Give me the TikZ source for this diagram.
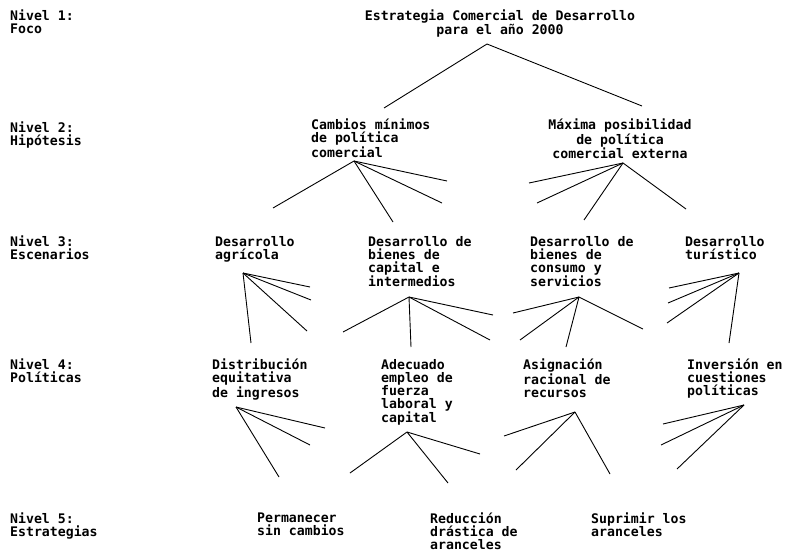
\documentclass[tikz,border=0pt]{standalone}
\usepackage{fontspec}
\newfontfamily\plotter{DejaVu Sans Mono}
\newcommand\fanlines[2]{\foreach \k in {1,...,#2} \draw[fan] (#1) -- (#1-\k);}
\tikzset{
  lbl/.style={inner sep=0pt, font=\plotter\bfseries\fontsize{13.2}{13}\selectfont,
    execute at begin node={\rule{0pt}{11pt}}},
  txt/.style={lbl, anchor=north west, align=left},
  ctxt/.style={lbl, anchor=north, align=center},
  fan/.style={line width=0.9pt, black},
}
\begin{document}
\begin{tikzpicture}[x=1pt,y=-1pt]
\useasboundingbox (0,0) rectangle (786,555);

% level captions
\node[txt] (l1) at (10,10)  {Nivel 1:\\Foco};
\node[txt] (l2) at (10,122) {Nivel 2:\\Hipótesis};
\node[txt] (l3) at (10,236) {Nivel 3:\\Escenarios};
\node[txt] (l4) at (10,359) {Nivel 4:\\Políticas};
\node[txt] (l5) at (10,513) {Nivel 5:\\Estrategias};

% focus
\node[ctxt] (foco) at (500,10) {Estrategia Comercial de Desarrollo\\para el año 2000};

% hypotheses
\node[txt]  (h1) at (311,119) {Cambios mínimos\\de política\\comercial};
\node[ctxt] (h2) at (620,119) {Máxima posibilidad\\de política\\comercial externa};

% scenarios
\node[txt] (e1) at (215,236) {Desarrollo\\agrícola};
\node[txt] (e2) at (368,236) {Desarrollo de\\bienes de\\capital e\\intermedios};
\node[txt] (e3) at (530,236) {Desarrollo de\\bienes de\\consumo y\\servicios};
\node[txt] (e4) at (685,236) {Desarrollo\\turístico};

% policies
\node[txt] (p1) at (212,359) {Distribución\\equitativa\\de ingresos};
\node[txt] (p2) at (381,359) {Adecuado\\empleo de\\fuerza\\laboral y\\capital};
\node[txt] (p3) at (523,359) {Asignación\\racional de\\recursos};
\node[txt] (p4) at (687,359) {Inversión en\\cuestiones\\políticas};

% strategies
\node[txt] (s1) at (257,513) {Permanecer\\sin cambios};
\node[txt] (s2) at (430,513) {Reducción\\drástica de\\aranceles};
\node[txt] (s3) at (591,513) {Suprimir los\\aranceles};

% fan points under each node
\coordinate (foco-a) at (487,44);
\coordinate (foco-a-1) at (384,108);
\coordinate (foco-a-2) at (642,106);

\coordinate (h1-a) at (354,161);
\coordinate (h1-a-1) at (273,208);
\coordinate (h1-a-2) at (393,222);
\coordinate (h1-a-3) at (442,203);
\coordinate (h1-a-4) at (447,181);

\coordinate (h2-a) at (623,163);
\coordinate (h2-a-1) at (529,183);
\coordinate (h2-a-2) at (537,203);
\coordinate (h2-a-3) at (584,220);
\coordinate (h2-a-4) at (686,209);

\coordinate (e1-a) at (243,273);
\coordinate (e1-a-1) at (310,287);
\coordinate (e1-a-2) at (311,300);
\coordinate (e1-a-3) at (307,331);
\coordinate (e1-a-4) at (251,343);

\coordinate (e2-a) at (409,297);
\coordinate (e2-a-1) at (343,332);
\coordinate (e2-a-2) at (493,315);
\coordinate (e2-a-3) at (490,340);
\coordinate (e2-a-4) at (411,347);

\coordinate (e3-a) at (579,297);
\coordinate (e3-a-1) at (513,313);
\coordinate (e3-a-2) at (520,340);
\coordinate (e3-a-3) at (566,347);
\coordinate (e3-a-4) at (643,329);

\coordinate (e4-a) at (739,273);
\coordinate (e4-a-1) at (669,288);
\coordinate (e4-a-2) at (668,303);
\coordinate (e4-a-3) at (667,323);
\coordinate (e4-a-4) at (729,343);

\coordinate (p1-a) at (236,407);
\coordinate (p1-a-1) at (325,428);
\coordinate (p1-a-2) at (310,445);
\coordinate (p1-a-3) at (279,477);

\coordinate (p2-a) at (407,432);
\coordinate (p2-a-1) at (350,473);
\coordinate (p2-a-2) at (448,483);
\coordinate (p2-a-3) at (480,454);

\coordinate (p3-a) at (575,412);
\coordinate (p3-a-1) at (504,436);
\coordinate (p3-a-2) at (516,470);
\coordinate (p3-a-3) at (610,474);

\coordinate (p4-a) at (744,405);
\coordinate (p4-a-1) at (663,424);
\coordinate (p4-a-2) at (661,445);
\coordinate (p4-a-3) at (677,469);

% fans
\fanlines{foco-a}{2}
\fanlines{h1-a}{4}
\fanlines{h2-a}{4}
\fanlines{e1-a}{4}
\fanlines{e2-a}{4}
\fanlines{e3-a}{4}
\fanlines{e4-a}{4}
\fanlines{p1-a}{3}
\fanlines{p2-a}{3}
\fanlines{p3-a}{3}
\fanlines{p4-a}{3}
\end{tikzpicture}
\end{document}
